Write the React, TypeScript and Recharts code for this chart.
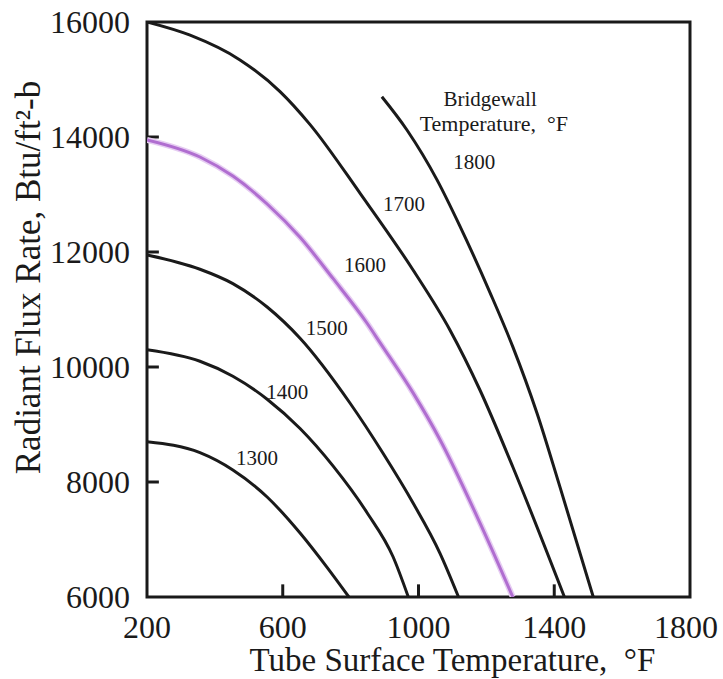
import {
  Label,
  Line,
  LineChart,
  ReferenceArea,
  ReferenceDot,
  ReferenceLine,
  XAxis,
  YAxis,
} from "recharts";

const xTicks = [200, 600, 1000, 1400, 1800];
const yTicks = [6000, 8000, 10000, 12000, 14000, 16000];

// tube surface temp (x) vs radiant flux (y), one curve per bridgewall temperature
const curve1300 = [
  { x: 200, y: 8700 },
  { x: 356, y: 8510 },
  { x: 453, y: 8209 },
  { x: 554, y: 7739 },
  { x: 651, y: 7113 },
  { x: 730, y: 6520 },
  { x: 795, y: 6000 },
];
const curve1400 = [
  { x: 200, y: 10300 },
  { x: 356, y: 10100 },
  { x: 453, y: 9840 },
  { x: 554, y: 9440 },
  { x: 651, y: 8930 },
  { x: 748, y: 8280 },
  { x: 848, y: 7470 },
  { x: 925, y: 6700 },
  { x: 970, y: 6000 },
];
const curve1500 = [
  { x: 200, y: 11950 },
  { x: 356, y: 11700 },
  { x: 453, y: 11450 },
  { x: 554, y: 11043 },
  { x: 651, y: 10500 },
  { x: 798, y: 9374 },
  { x: 895, y: 8504 },
  { x: 984, y: 7635 },
  { x: 1063, y: 6765 },
  { x: 1118, y: 6000 },
];
const curve1600 = [
  { x: 200, y: 13950 },
  { x: 356, y: 13652 },
  { x: 453, y: 13320 },
  { x: 554, y: 12835 },
  { x: 651, y: 12255 },
  { x: 748, y: 11540 },
  { x: 848, y: 10765 },
  { x: 887, y: 10420 },
  { x: 984, y: 9550 },
  { x: 1063, y: 8740 },
  { x: 1181, y: 7290 },
  { x: 1278, y: 6000 },
];
const curve1700 = [
  { x: 200, y: 16000 },
  { x: 327, y: 15770 },
  { x: 474, y: 15340 },
  { x: 592, y: 14790 },
  { x: 680, y: 14220 },
  { x: 828, y: 13020 },
  { x: 984, y: 11687 },
  { x: 1093, y: 10640 },
  { x: 1181, y: 9600 },
  { x: 1278, y: 8260 },
  { x: 1430, y: 6000 },
];
const curve1800 = [
  { x: 892, y: 14700 },
  { x: 966, y: 14122 },
  { x: 1055, y: 13250 },
  { x: 1122, y: 12450 },
  { x: 1211, y: 11290 },
  { x: 1278, y: 10350 },
  { x: 1349, y: 9200 },
  { x: 1417, y: 7910 },
  { x: 1515, y: 6000 },
];

const blackCurves = [curve1300, curve1400, curve1500, curve1700, curve1800];

const curveLabels = [
  { text: "1300", x: 524, y: 8420, size: 21 },
  { text: "1400", x: 613, y: 9565, size: 21 },
  { text: "1500", x: 730, y: 10680, size: 21 },
  { text: "1600", x: 842, y: 11775, size: 21 },
  { text: "1700", x: 957, y: 12850, size: 21 },
  { text: "1800", x: 1164, y: 13565, size: 21 },
  { text: "Bridgewall", x: 1211, y: 14665, size: 21 },
  { text: "Temperature,\u00a0 °F", x: 1222, y: 14240, size: 22 },
];

const serif = "'Liberation Serif', 'Times New Roman', serif";
const ink = "#1a1a1a";
const yTickGap = 17;
const xTickGap = 30;

// inward tick marks (the chart's frame covers the end ticks)
const innerXTicks = xTicks.slice(1, -1);
const innerYTicks = yTicks.slice(1, -1);

function YTick({ x, y, payload }: any) {
  return (
    <text
      x={x}
      y={y}
      textAnchor="end"
      dominantBaseline="central"
      fontSize={32}
      fontFamily={serif}
      fill={ink}
    >
      {payload.value}
    </text>
  );
}

function XTick({ x, y, payload }: any) {
  return (
    <text
      x={payload.value === 1800 ? x - 4 : x}
      y={y}
      textAnchor="middle"
      dominantBaseline="central"
      fontSize={32}
      fontFamily={serif}
      fill={ink}
    >
      {payload.value}
    </text>
  );
}

export default function App() {
  return (
    <>
      <style>{"html,body{margin:0;overflow:hidden;background:#fff}"}</style>
      <LineChart
        width={723}
        height={679}
        margin={{ top: 22, right: 33, left: 0, bottom: 0 }}
        style={{ fontFamily: serif }}
      >
        <XAxis
          type="number"
          dataKey="x"
          domain={[200, 1800]}
          ticks={xTicks}
          interval={0}
          height={82}
          axisLine={false}
          tickLine={false}
          tickSize={0}
          tickMargin={xTickGap}
          tick={<XTick />}
          allowDataOverflow
        >
          <Label
            content={({ viewBox }: any) => (
              <text
                x={viewBox.x + viewBox.width / 2 + 34}
                y={viewBox.y + 63}
                textAnchor="middle"
                dominantBaseline="central"
                fontSize={33}
                fontFamily={serif}
                fill={ink}
              >
                {"Tube Surface Temperature,\u00a0 °F"}
              </text>
            )}
          />
        </XAxis>
        <YAxis
          type="number"
          domain={[6000, 16000]}
          ticks={yTicks}
          interval={0}
          width={147}
          axisLine={false}
          tickLine={false}
          tickSize={0}
          tickMargin={yTickGap}
          tick={<YTick />}
          allowDataOverflow
        >
          <Label
            content={({ viewBox }: any) => {
              const cx = viewBox.x + 28;
              const cy = viewBox.y + viewBox.height / 2 - 32;
              return (
                <text
                  x={cx}
                  y={cy}
                  transform={`rotate(-90 ${cx} ${cy})`}
                  textAnchor="middle"
                  dominantBaseline="central"
                  fontSize={35}
                  fontFamily={serif}
                  fill={ink}
                >
                  Radiant Flux Rate, Btu/ft²-b
                </text>
              );
            }}
          />
        </YAxis>
        <ReferenceArea
          x1={200}
          x2={1800}
          y1={6000}
          y2={16000}
          fill="none"
          fillOpacity={0}
          stroke={ink}
          strokeWidth={3}
        />
        {innerYTicks.map((v) => (
          <ReferenceLine
            key={`yt${v}`}
            ifOverflow="visible"
            segment={[
              { x: 200, y: v },
              { x: 235, y: v },
            ]}
            stroke={ink}
            strokeWidth={3}
          />
        ))}
        {innerXTicks.map((v) => (
          <ReferenceLine
            key={`xt${v}`}
            ifOverflow="visible"
            segment={[
              { x: v, y: 6000 },
              { x: v, y: 6220 },
            ]}
            stroke={ink}
            strokeWidth={3}
          />
        ))}
        {blackCurves.map((data, i) => (
          <Line
            key={i}
            data={data}
            dataKey="y"
            type="monotone"
            stroke={ink}
            strokeWidth={3}
            dot={false}
            activeDot={false}
            isAnimationActive={false}
          />
        ))}
        <Line
          data={curve1600}
          dataKey="y"
          type="monotone"
          stroke="#e6cdf2"
          strokeWidth={6}
          dot={false}
          activeDot={false}
          isAnimationActive={false}
        />
        <Line
          data={curve1600}
          dataKey="y"
          type="monotone"
          stroke="#b06ed0"
          strokeWidth={3}
          dot={false}
          activeDot={false}
          isAnimationActive={false}
        />
        {curveLabels.map((c) => (
          <ReferenceDot
            key={c.text}
            x={c.x}
            y={c.y}
            r={0}
            fill="none"
            stroke="none"
            label={{
              value: c.text,
              position: "center",
              fontSize: c.size,
              fontFamily: serif,
              fill: ink,
            }}
          />
        ))}
      </LineChart>
    </>
  );
}
